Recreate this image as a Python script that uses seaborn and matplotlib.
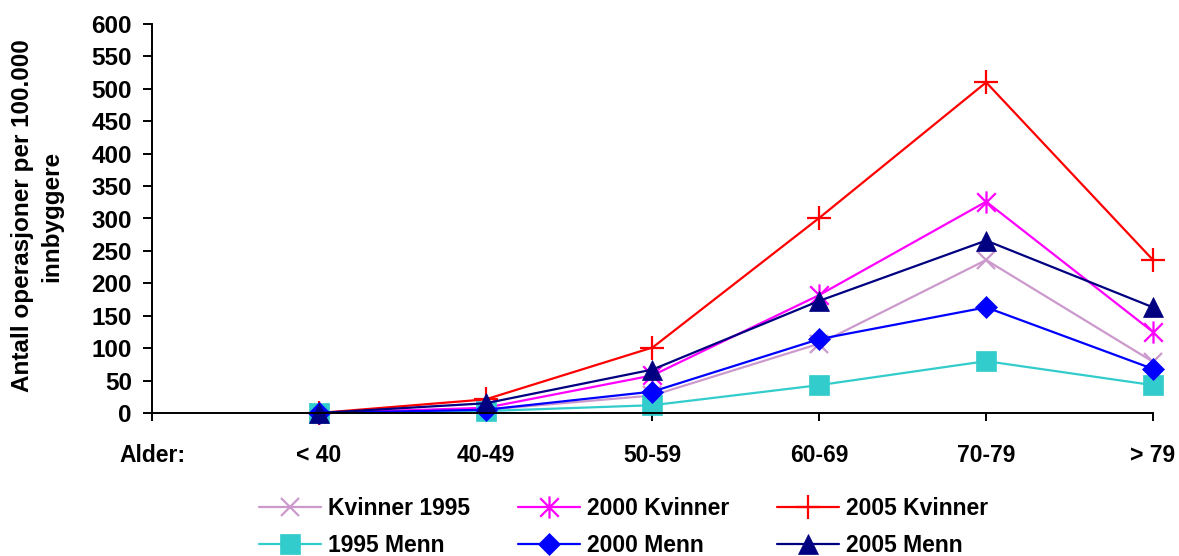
import numpy as np
import pandas as pd
import matplotlib
matplotlib.use("Agg")
import matplotlib.pyplot as plt
from matplotlib.path import Path
import seaborn as sns

# ---- data ----
categories = ["Alder:", "< 40", "40-49", "50-59", "60-69", "70-79", "> 79"]
ages = ["< 40", "40-49", "50-59", "60-69", "70-79", "> 79"]
series_names = ["Kvinner 1995", "2000 Kvinner", "2005 Kvinner",
                "1995 Menn", "2000 Menn", "2005 Menn"]
kvinner_1995 = [0, 5, 27, 107, 236, 79]
kvinner_2000 = [0, 8, 58, 182, 326, 125]
kvinner_2005 = [0, 21, 101, 301, 510, 236]
menn_1995 = [0, 3, 12, 43, 80, 43]
menn_2000 = [0, 5, 33, 114, 163, 68]
menn_2005 = [0, 15, 67, 173, 266, 163]
yticks = list(range(0, 601, 50))

values = [kvinner_1995, kvinner_2000, kvinner_2005, menn_1995, menn_2000, menn_2005]

sns.set_style("white")
plt.rcParams['font.family'] = ['Liberation Sans', 'DejaVu Sans']
plt.rcParams['font.weight'] = 'bold'
plt.rcParams['text.color'] = 'black'
plt.rcParams['xtick.color'] = 'black'
plt.rcParams['ytick.color'] = 'black'
plt.rcParams['axes.labelcolor'] = 'black'

# asterisk marker: X plus vertical line
ast = Path([(-1, -1), (1, 1), (-1, 1), (1, -1), (0, -1.2), (0, 1.2)],
           [Path.MOVETO, Path.LINETO, Path.MOVETO, Path.LINETO, Path.MOVETO, Path.LINETO])

styles = {
    "Kvinner 1995": dict(color="#CC99CC", marker="x", ms=13, mew=1.6),
    "2000 Kvinner": dict(color="#FF00FF", marker=ast, ms=16, mew=1.6),
    "2005 Kvinner": dict(color="#FF0000", marker="+", ms=17, mew=1.6),
    "1995 Menn": dict(color="#33CCCC", marker="s", ms=14, mew=0.5),
    "2000 Menn": dict(color="#0000FF", marker="D", ms=11, mew=0.5),
    "2005 Menn": dict(color="#000080", marker="^", ms=15, mew=0.5),
}

rows = []
for name, vals in zip(series_names, values):
    for a, v in zip(ages, vals):
        rows.append(dict(series=name, pos=categories.index(a), value=v))
df = pd.DataFrame(rows)

fig = plt.figure(figsize=(11.79, 5.56), dpi=100)
ax = fig.add_axes([152/1179, 1 - 413/556, (1153 - 152)/1179, (413 - 24)/556])

handles = {}
for name in series_names:
    st = styles[name]
    sub = df[df.series == name]
    sns.lineplot(data=sub, x="pos", y="value", ax=ax, color=st["color"],
                 linewidth=1.6, marker=st["marker"], markersize=st["ms"],
                 markeredgewidth=st["mew"], markeredgecolor=st["color"],
                 markerfacecolor=st["color"], label=name, clip_on=False,
                 legend=False)
    handles[name] = ax.lines[-1]

ax.set_xlim(0, 6)
ax.set_ylim(0, 600)
ax.set_xticks(range(len(categories)))
ax.set_xticklabels(categories)
ax.set_yticks(yticks)
ax.set_yticklabels([str(t) for t in yticks])
ax.set_xlabel("")
ax.set_ylabel("")
for s in ["top", "right"]:
    ax.spines[s].set_visible(False)
for s in ["left", "bottom"]:
    ax.spines[s].set_color("black")
    ax.spines[s].set_linewidth(1.4)
ax.tick_params(axis="x", direction="out", length=6, width=1.4, pad=16,
               labelsize=16.5, bottom=True, color="black", labelcolor="black")
ax.tick_params(axis="y", direction="out", length=6.5, width=1.4, pad=8,
               labelsize=17.5, left=True, color="black", labelcolor="black")
for lab in ax.get_xticklabels() + ax.get_yticklabels():
    lab.set_fontweight("bold")

fig.text(37/1179, 1 - 216/556, "Antall operasjoner per 100.000\ninnbyggere",
         rotation=90, ha="center", va="center", fontsize=17.5, color="black",
         fontweight="bold", linespacing=1.35, multialignment="center")

order = ["Kvinner 1995", "1995 Menn", "2000 Kvinner", "2000 Menn",
         "2005 Kvinner", "2005 Menn"]
leg = fig.legend([handles[n] for n in order], order, loc="center",
                 bbox_to_anchor=(0.529, 0.052), ncol=3, frameon=False,
                 prop=dict(size=16.5, weight="bold"), handlelength=2.7,
                 handletextpad=0.3, columnspacing=2.1, labelspacing=0.6,
                 numpoints=1, markerscale=1.0, labelcolor="black")

fig.savefig("out.png", dpi=100, facecolor="white")
